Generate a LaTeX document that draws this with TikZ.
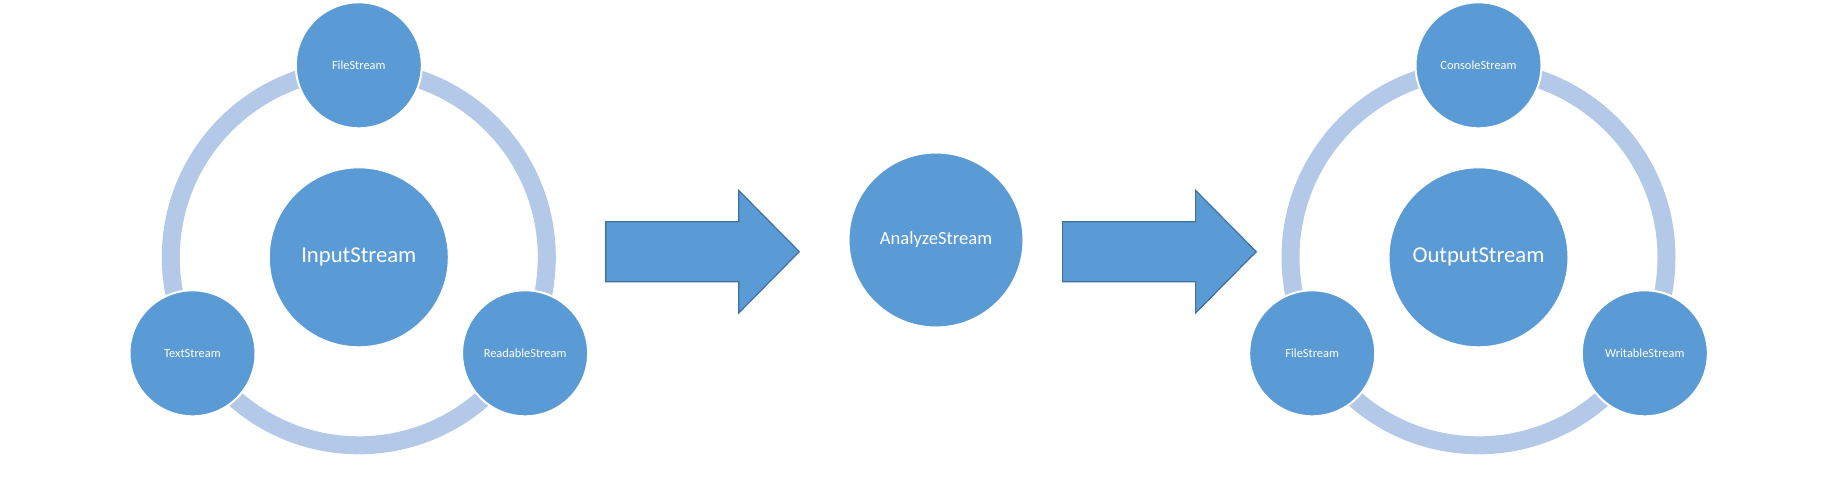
\documentclass[tikz,border=0pt]{standalone}
\usepackage{fontspec}
\setmainfont{Carlito}
\definecolor{nodeblue}{HTML}{5B9BD5}
\definecolor{ringblue}{HTML}{B4C9E7}
\definecolor{arrowedge}{HTML}{41719C}
\begin{document}
\begin{tikzpicture}[x=1pt,y=-1pt,
  sat/.style={circle,fill=nodeblue,draw=white,line width=2pt,minimum size=126pt,inner sep=0pt,text=white,font=\fontsize{12.4}{14}\selectfont},
  hub/.style={circle,fill=nodeblue,draw=white,line width=1pt,minimum size=179pt,inner sep=0pt,text=white,font=\fontsize{22.7}{26}\selectfont},
  mid/.style={circle,fill=nodeblue,draw=white,line width=1pt,minimum size=174pt,inner sep=0pt,text=white,font=\fontsize{18.6}{22}\selectfont},
  ringline/.style={draw=ringblue,line width=18pt},
  arrowbody/.style={fill=nodeblue,draw=arrowedge,line width=1.2pt,line join=miter},
  bigarrow/.pic={\draw[arrowbody] (0,-30) -- (133,-30) -- (133,-61.3) -- (193.6,0) -- (133,61.3) -- (133,30) -- (0,30) -- cycle;}]
\useasboundingbox (0,0) rectangle (1837,480);
% left group
\coordinate (c1) at (358.8,257.3);
\draw[ringline] (c1) circle[radius=188];
\node[hub] (in1) at (c1) {InputStream};
\path (c1) ++(0,-192) node[sat] (fs1) {FileStream};
\path (c1) ++(-166.3,96) node[sat] (ts1) {TextStream};
\path (c1) ++(166.3,96) node[sat] (rs1) {ReadableStream};
% middle
\coordinate (a1) at (605.7,251.7);
\pic at (a1) {bigarrow};
\node[mid] (an) at (936,240) {AnalyzeStream};
\coordinate (a2) at (1062.6,251.7);
\pic at (a2) {bigarrow};
% right group
\coordinate (c2) at (1478.5,257.3);
\draw[ringline] (c2) circle[radius=188];
\node[hub] (out) at (c2) {OutputStream};
\path (c2) ++(0,-192) node[sat] (cs2) {ConsoleStream};
\path (c2) ++(-166.3,96) node[sat] (fs2) {FileStream};
\path (c2) ++(166.3,96) node[sat] (ws2) {WritableStream};
\end{tikzpicture}
\end{document}
